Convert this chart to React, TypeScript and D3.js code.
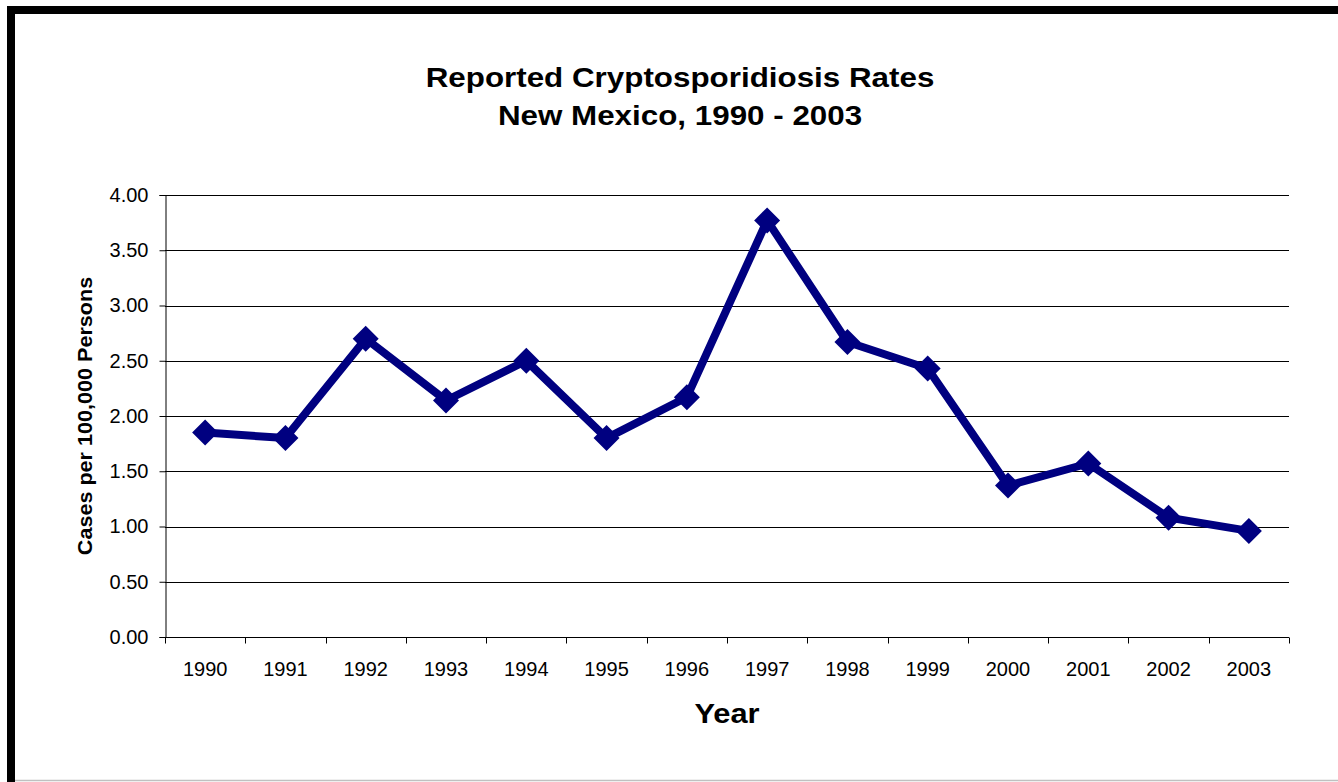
import React, { useEffect, useRef } from "react";
import * as d3 from "d3";

const years = ["1990","1991","1992","1993","1994","1995","1996","1997","1998","1999","2000","2001","2002","2003"];
const rates = [1.85, 1.80, 2.70, 2.14, 2.50, 1.80, 2.17, 3.77, 2.67, 2.43, 1.37, 1.57, 1.08, 0.96];
const yTicks = [0, 0.5, 1, 1.5, 2, 2.5, 3, 3.5, 4];
const titleLines = ["Reported Cryptosporidiosis Rates", "New Mexico, 1990 - 2003"];

const W = 1338, H = 782;
const left = 165, right = 1289, top = 195, bottom = 637;

export default function App() {
  const ref = useRef<SVGSVGElement>(null);
  useEffect(() => {
    const svg = d3.select(ref.current);
    svg.selectAll("*").remove();
    const font = "'Liberation Sans', Arial, sans-serif";

    svg.append("rect").attr("width", W).attr("height", H).attr("fill", "#fff");
    // frame
    svg.append("rect").attr("x", 7).attr("y", 6).attr("width", W).attr("height", 8).attr("fill", "#000");
    svg.append("rect").attr("x", 7).attr("y", 6).attr("width", 8).attr("height", H).attr("fill", "#000");
    svg.append("line").attr("x1", 15).attr("x2", W).attr("y1", 780.5).attr("y2", 780.5).attr("stroke", "#c0c0c0").attr("stroke-width", 1.5);

    const x = d3.scaleBand().domain(years).range([left, right]);
    const y = d3.scaleLinear().domain([0, 4]).range([bottom, top]);

    // gridlines
    svg.append("g").selectAll("line").data(yTicks.filter(d => d > 0)).join("line")
      .attr("x1", left).attr("x2", right)
      .attr("y1", d => Math.round(y(d)) + 0.5).attr("y2", d => Math.round(y(d)) + 0.5)
      .attr("stroke", "#000").attr("stroke-width", 1);

    // y axis
    const yAxis = svg.append("g").attr("transform", `translate(${left + 0.5},0)`)
      .call(d3.axisLeft(y).tickValues(yTicks).tickFormat(d3.format(".2f")).tickSize(6).tickPadding(11));
    yAxis.select(".domain").attr("stroke", "#000");
    yAxis.selectAll("text").attr("font-size", 20).attr("font-family", font).attr("fill", "#000");

    // x axis
    const xAxis = svg.append("g").attr("transform", `translate(0,${bottom + 0.5})`);
    xAxis.append("line").attr("x1", left).attr("x2", right).attr("stroke", "#000");
    const bounds = years.map((_, i) => left + i * x.step()).concat([right]);
    xAxis.selectAll("line.tk").data(bounds).join("line").attr("class", "tk")
      .attr("x1", d => Math.round(d) + 0.5).attr("x2", d => Math.round(d) + 0.5)
      .attr("y1", 0).attr("y2", 6).attr("stroke", "#000");
    xAxis.selectAll("text").data(years).join("text")
      .attr("x", d => x(d)! + x.bandwidth() / 2).attr("y", 38)
      .attr("text-anchor", "middle").attr("font-size", 20).attr("font-family", font).text(d => d);

    // line
    const pts = years.map((yr, i) => [x(yr)! + x.bandwidth() / 2, y(rates[i])] as [number, number]);
    svg.append("path").attr("d", d3.line()(pts)).attr("fill", "none")
      .attr("stroke", "#000080").attr("stroke-width", 8).attr("stroke-linejoin", "round");
    const r = 13;
    svg.append("g").selectAll("path").data(pts).join("path")
      .attr("d", ([px, py]) => `M${px},${py - r}L${px + r},${py}L${px},${py + r}L${px - r},${py}Z`)
      .attr("fill", "#000080");

    // titles
    svg.append("g").selectAll("text").data(titleLines).join("text")
      .attr("transform", (_, i) => `translate(680,${87 + i * 38}) scale(1.12,1)`)
      .attr("text-anchor", "middle").attr("font-size", 28).attr("font-weight", "bold")
      .attr("font-family", font).text(d => d);

    svg.append("text").attr("transform", `translate(92,${(top + bottom) / 2}) rotate(-90) scale(1.08,1)`)
      .attr("text-anchor", "middle").attr("font-size", 20).attr("font-weight", "bold")
      .attr("font-family", font).text("Cases per 100,000 Persons");

    svg.append("text").attr("transform", `translate(${(left + right) / 2},723) scale(1.1,1)`)
      .attr("text-anchor", "middle").attr("font-size", 28).attr("font-weight", "bold")
      .attr("font-family", font).text("Year");
  }, []);
  return (
    <svg ref={ref} width={W} height={H}
      style={{ position: "fixed", left: 0, top: 0, display: "block" }} />
  );
}
